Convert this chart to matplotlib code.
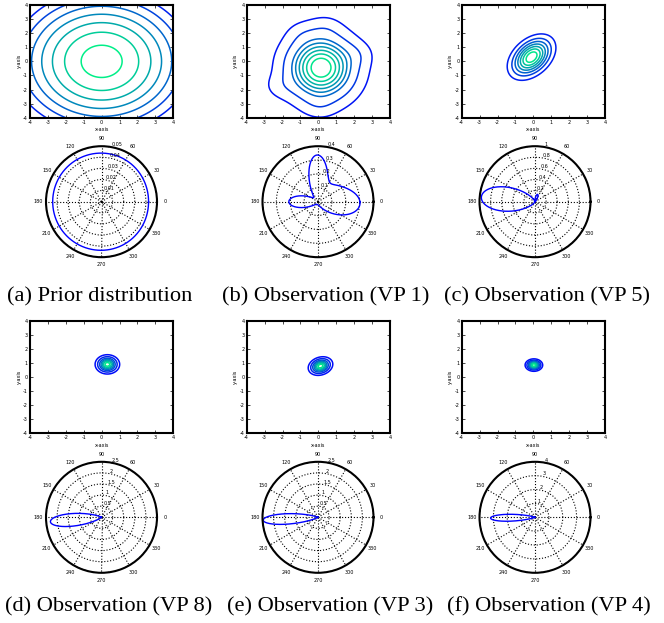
import numpy as np
import matplotlib
matplotlib.use("Agg")
import matplotlib.pyplot as plt
from matplotlib.colors import Normalize

plt.rcParams["axes.unicode_minus"] = False

# contour panels: gaussian components (mean x, mean y, sigma x, sigma y, rho, weight)
prior_comp = [(0.0, 0.0, 4.0, 4.0, 0.0, 1.0)]
vp1_comp = [(0.15, -0.45, 1.2, 1.45, 0.0, 1.0),
            (-2.2, -1.8, 0.6, 0.6, 0.0, 0.07),
            (0.05, -3.2, 0.6, 0.6, 0.0, 0.06),
            (2.2, 0.5, 0.6, 0.6, 0.0, 0.07),
            (0.4, 2.4, 0.6, 0.6, 0.0, 0.06),
            (-0.9, 2.0, 0.6, 0.6, 0.0, 0.05)]
vp5_comp = [(-0.1, 0.3, 0.66, 0.8, 0.4, 1.0)]
vp8_comp = [(0.32, 0.9, 0.28, 0.28, 0.0, 1.0)]
vp3_comp = [(0.12, 0.78, 0.28, 0.27, 0.2, 1.0)]
vp4_comp = [(0.03, 0.85, 0.2, 0.18, 0.0, 1.0)]

# contour levels as fraction of the peak
prior_levels = [0.45, 0.535, 0.62, 0.705, 0.79, 0.875, 0.96]
vp1_levels = [0.08, 0.22, 0.4, 0.5, 0.6, 0.7, 0.8, 0.9]
vp5_levels = [0.12, 0.25, 0.38, 0.51, 0.64, 0.77, 0.9]
blob_levels = [0.05, 0.15, 0.3, 0.45, 0.6, 0.75, 0.9]

# polar panels: lobes (amplitude, direction deg, concentration), base radius
prior_lobes = [(-0.0016, 0, 2.0)]
prior_base = 0.044
vp1_lobes = [(0.30, 92, 12.0), (0.27, -5, 5.0), (0.10, 45, 6.0), (0.19, 180, 10.0)]
vp1_base = 0.02
vp5_lobes = [(0.97, 175, 7.0), (0.14, 70, 20.0)]
vp8_lobes = [(2.31, 185, 24.0)]
vp3_lobes = [(2.47, 183, 40.0)]
vp4_lobes = [(3.2, 181, 60.0)]

prior_rings = [0.01, 0.02, 0.03, 0.04, 0.05]
vp1_rings = [0.1, 0.2, 0.3, 0.4]
vp5_rings = [0.2, 0.4, 0.6, 0.8, 1.0]
vp8_rings = [0.5, 1.0, 1.5, 2.0, 2.5]
vp4_rings = [1, 2, 3, 4]
angle_labels = ["0", "30", "60", "90", "120", "150", "180", "210", "240", "270", "300", "330"]

captions = ["(a) Prior distribution", "(b) Observation (VP 1)", "(c) Observation (VP 5)",
            "(d) Observation (VP 8)", "(e) Observation (VP 3)", "(f) Observation (VP 4)"]

W, H = 664, 623
gx = np.linspace(-4, 4, 241)
X, Y = np.meshgrid(gx, gx)


def density(comps):
    Z = np.zeros_like(X)
    for mx, my, sx, sy, rho, w in comps:
        dx = (X - mx) / sx
        dy = (Y - my) / sy
        q = (dx ** 2 - 2 * rho * dx * dy + dy ** 2) / (1 - rho ** 2)
        Z += w * np.exp(-0.5 * q)
    return Z / Z.max()


def px_axes(fig, left, top, w, h, **kw):
    return fig.add_axes([left / W, 1 - (top + h) / H, w / W, h / H], **kw)


def draw_contour(ax, comps, levels):
    Z = density(comps)
    ax.contour(X, Y, Z, levels=levels, cmap="winter",
               norm=Normalize(Z.min(), Z.max()), linewidths=1.1)
    ax.set_xlim(-4, 4)
    ax.set_ylim(-4, 4)
    ax.set_xticks(range(-4, 5))
    ax.set_yticks(range(-4, 5))
    ax.tick_params(direction="in", top=True, right=True, length=2, width=0.5,
                   labelsize=3.5, pad=1.5)
    ax.set_xlabel("x-axis", fontsize=3.5, labelpad=1.5)
    ax.set_ylabel("y-axis", fontsize=3.5, labelpad=1)
    for s in ax.spines.values():
        s.set_linewidth(1.5)


def draw_polar(ax, lobes, base, rings):
    th = np.linspace(0, 2 * np.pi, 1441)
    r = np.full_like(th, base)
    for a, mu, k in lobes:
        r += a * np.exp(k * (np.cos(th - np.deg2rad(mu)) - 1))
    ax.plot(th, r, color="#0000ff", lw=1.0)
    rmax = rings[-1]
    ax.set_ylim(0, rmax)
    ax.set_rgrids(rings, labels=[""] * len(rings))
    ax.set_thetagrids(range(0, 360, 30), labels=[""] * 12)
    ax.tick_params(axis="both", length=0)
    ax.grid(True, color="k", linestyle=":", linewidth=0.8)
    ax.spines["polar"].set_linewidth(1.5)
    for v in rings:
        ax.text(np.deg2rad(80), v, "%g" % v, fontsize=3.5, ha="left", va="bottom")
    for deg, lab in zip(range(0, 360, 30), angle_labels):
        ax.text(np.deg2rad(deg), 1.14 * rmax, lab, fontsize=3.5,
                ha="center", va="center", clip_on=False)


fig = plt.figure(figsize=(W / 100, H / 100), dpi=100)

lefts = [30, 246.7, 461.7]
centers = [101.5, 318, 535]
caption_x = [[100, 326, 547.5], [108.5, 330, 549]]
panels = [
    (prior_comp, prior_levels, prior_lobes, prior_base, prior_rings),
    (vp1_comp, vp1_levels, vp1_lobes, vp1_base, vp1_rings),
    (vp5_comp, vp5_levels, vp5_lobes, 0.0, vp5_rings),
    (vp8_comp, blob_levels, vp8_lobes, 0.0, vp8_rings),
    (vp3_comp, blob_levels, vp3_lobes, 0.0, vp8_rings),
    (vp4_comp, blob_levels, vp4_lobes, 0.0, vp4_rings),
]
row_tops = [5, 320.7]
polar_cy = [201.7, 517.3]
caption_y = [297, 607]
R = 55.5

for i, (comps, levels, lobes, base, rings) in enumerate(panels):
    row, col = divmod(i, 3)
    ax = px_axes(fig, lefts[col], row_tops[row], 143.3, 112.7)
    draw_contour(ax, comps, levels)
    pax = px_axes(fig, centers[col] - R, polar_cy[row] - R, 2 * R, 2 * R,
                  projection="polar")
    draw_polar(pax, lobes, base, rings)
    fig.text(caption_x[row][col] / W, 1 - caption_y[row] / H, captions[i],
             ha="center", va="center", fontsize=16.2, family="Liberation Serif")

fig.savefig("out.png", dpi=100)
